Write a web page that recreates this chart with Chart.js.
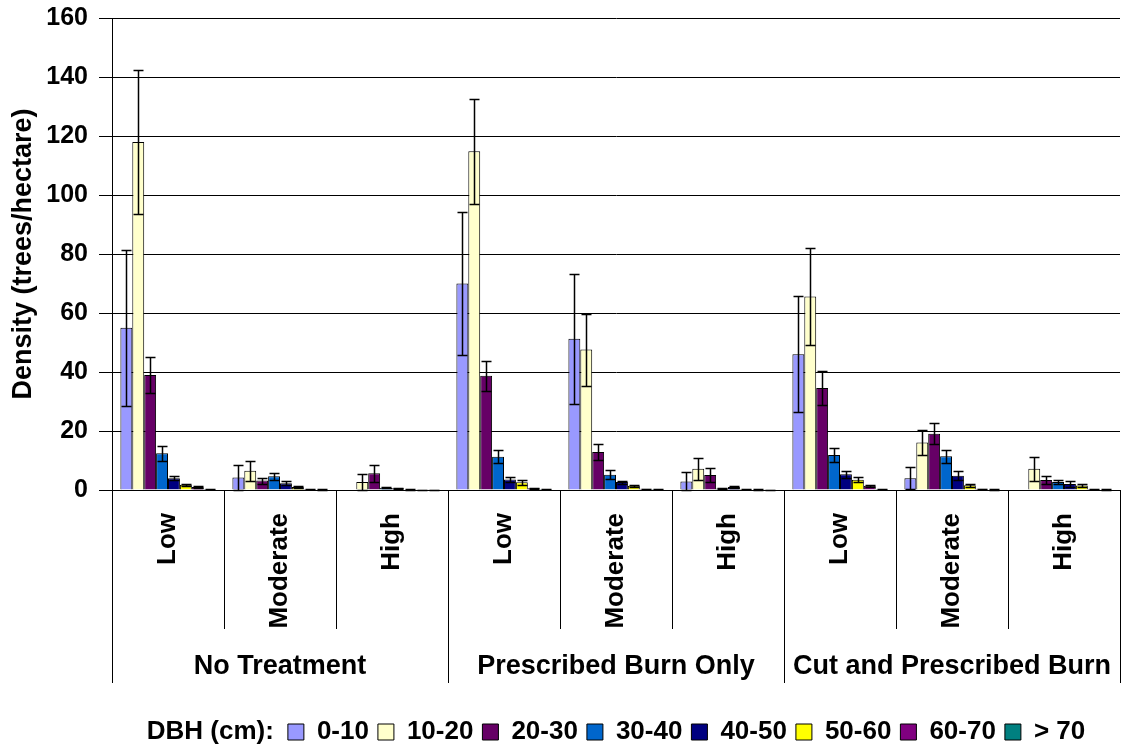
<!DOCTYPE html>
<html lang="en">
<head>
<meta charset="UTF-8">
<title>Tree density by DBH class</title>
<style>
  html, body { margin: 0; padding: 0; background: #fff; }
  .wrap { width: 1122px; height: 749px; position: relative; }
</style>
</head>
<body>
<div class="wrap"><canvas id="chart"></canvas></div>

<script src="https://cdn.jsdelivr.net/npm/chart.js"></script>
<script>
// severity level within each treatment (9 bar groups)
const severity = ['Low', 'Moderate', 'High', 'Low', 'Moderate', 'High', 'Low', 'Moderate', 'High'];
const treatments = ['No Treatment', 'Prescribed Burn Only', 'Cut and Prescribed Burn'];
const dbhClasses = ['0-10', '10-20', '20-30', '30-40', '40-50', '50-60', '60-70', '> 70'];
const yTicks = { min: 0, max: 160, step: 20 };

// mean density (trees/hectare) per DBH class, in severity order above
const d0_10  = [55, 4.2, 0, 70, 51.3, 2.9, 46, 4.0, 0];
const d10_20 = [118, 6.5, 2.7, 114.8, 47.6, 7.2, 65.6, 16.1, 7.2];
const d20_30 = [39, 3.2, 5.7, 38.7, 12.9, 5.1, 34.6, 19.1, 3.4];
const d30_40 = [12.5, 4.7, 0.8, 11.3, 5.2, 0.5, 11.9, 11.4, 2.7];
const d40_50 = [4, 2.3, 0.6, 3.6, 2.7, 1.0, 5.3, 4.8, 2.0];
const d50_60 = [1.8, 1.0, 0.2, 2.6, 1.4, 0.3, 3.5, 1.6, 1.5];
const d60_70 = [1.0, 0.3, 0.1, 0.6, 0.4, 0.2, 1.4, 0.4, 0.3];
const d70    = [0.3, 0.2, 0.1, 0.3, 0.3, 0.1, 0.3, 0.2, 0.2];

// standard error (+/-)
const e0_10  = [26.5, 4.3, 0, 24.4, 22, 3.2, 19.6, 3.8, 0];
const e10_20 = [24.3, 3.3, 2.7, 17.7, 12.2, 3.7, 16.3, 4.3, 4.0];
const e20_30 = [6.2, 1.0, 2.9, 5.0, 2.6, 2.5, 5.8, 3.5, 1.5];
const e30_40 = [2.5, 1.2, 0.2, 2.2, 1.5, 0.2, 2.4, 2.3, 0.8];
const e40_50 = [0.7, 0.6, 0.2, 0.8, 0.5, 0.4, 1.1, 1.5, 1.0];
const e50_60 = [0.3, 0.3, 0.1, 0.9, 0.3, 0.1, 0.8, 0.5, 0.4];
const e60_70 = [0.3, 0.1, 0.05, 0.2, 0.1, 0.1, 0.3, 0.1, 0.1];
const e70    = [0.1, 0.05, 0.05, 0.1, 0.1, 0.05, 0.1, 0.05, 0.05];

const colors = ['#9999FF', '#FFFFCC', '#660066', '#0066CC', '#000080', '#FFFF00', '#800080', '#008080'];

const values = [d0_10, d10_20, d20_30, d30_40, d40_50, d50_60, d60_70, d70];
const errors = [e0_10, e10_20, e20_30, e30_40, e40_50, e50_60, e60_70, e70];

const FONT = "'Liberation Sans', Arial, sans-serif";
Chart.defaults.font.family = FONT;
Chart.defaults.color = '#000';

// vertical error bars, positioned from the bar elements and the y scale
const errorBars = {
    id: 'errorBars',
    afterDatasetsDraw(chart) {
        const ctx = chart.ctx;
        const y = chart.scales.y;
        ctx.save();
        ctx.strokeStyle = '#000';
        ctx.lineWidth = 1.5;
        chart.data.datasets.forEach((ds, i) => {
            const meta = chart.getDatasetMeta(i);
            meta.data.forEach((bar, j) => {
                const v = ds.data[j], e = ds.errors[j];
                if (!e) return;
                const top = Math.round(y.getPixelForValue(v + e)) + 0.5;
                const bot = Math.round(y.getPixelForValue(Math.max(0, v - e))) + 0.5;
                const x = Math.round(bar.x) + 0.5;
                ctx.beginPath();
                ctx.moveTo(x, top); ctx.lineTo(x, bot);
                ctx.moveTo(x - 5, top); ctx.lineTo(x + 5, top);
                ctx.moveTo(x - 5, bot); ctx.lineTo(x + 5, bot);
                ctx.stroke();
            });
        });
        ctx.restore();
    }
};

// "DBH (cm):" written in front of the legend row
const legendPrefix = {
    id: 'legendPrefix',
    afterLayout(chart, args, opts) {
        const lg = chart.legend;
        if (!lg || !lg.lineWidths) return;
        const ctx = chart.ctx;
        ctx.save();
        ctx.font = `bold ${opts.size}px ${FONT}`;
        const pw = ctx.measureText(opts.text).width;
        ctx.restore();
        const pad = lg.options.labels.padding;
        const rowW = lg.lineWidths[0] - pad;
        const total = pw + opts.gap + rowW;
        const mid = (chart.chartArea.left + chart.chartArea.right) / 2;
        const firstX = mid - total / 2 + pw + opts.gap;
        const w = lg.right - lg.left;
        lg.left = firstX - pad;
        lg.right = lg.left + w;
        lg.top += opts.offsetY;
        lg.bottom += opts.offsetY;
    },
    afterDraw(chart, args, opts) {
        const hb = chart.legend.legendHitBoxes[0];
        const ctx = chart.ctx;
        ctx.save();
        ctx.font = `bold ${opts.size}px ${FONT}`;
        ctx.fillStyle = '#000';
        ctx.textAlign = 'right';
        ctx.textBaseline = 'middle';
        ctx.fillText(opts.text, hb.left - opts.gap, hb.top + hb.height / 2);
        ctx.restore();
    }
};

const datasets = dbhClasses.map((name, i) => ({
    label: name,
    data: values[i],
    errors: errors[i],
    backgroundColor: colors[i],
    borderColor: '#000',
    borderWidth: 1,
    categoryPercentage: 0.85,
    barPercentage: 1.0
}));

new Chart(document.getElementById('chart'), {
    type: 'bar',
    data: { labels: severity, datasets: datasets },
    plugins: [errorBars, legendPrefix],
    options: {
        responsive: true,
        maintainAspectRatio: false,
        animation: false,
        layout: { padding: { top: 18, right: 2, left: 0, bottom: 0 } },
        plugins: {
            tooltip: { enabled: false },
            legend: {
                position: 'bottom',
                align: 'start',
                labels: {
                    font: { size: 26, weight: 'bold' },
                    color: '#000',
                    boxWidth: 16,
                    boxHeight: 16,
                    padding: 9
                }
            },
            legendPrefix: { text: 'DBH (cm):', size: 26, gap: 14, offsetY: 6 }
        },
        scales: {
            x: {
                weight: 0,
                grid: { offset: true, drawOnChartArea: false, tickLength: 139, color: '#000', tickColor: '#000' },
                border: { color: '#000' },
                ticks: {
                    autoSkip: false,
                    minRotation: 90,
                    maxRotation: 90,
                    padding: -116,
                    font: { size: 26, weight: 'bold' }
                },
                afterFit: s => { s.height = 139; }
            },
            x2: {
                type: 'category',
                labels: treatments,
                position: 'bottom',
                weight: 1,
                offset: true,
                grid: { offset: true, drawOnChartArea: false, tickLength: 54, color: '#000', tickColor: '#000' },
                border: { display: false },
                ticks: {
                    autoSkip: false,
                    maxRotation: 0,
                    padding: -33,
                    font: { size: 27, weight: 'bold' }
                },
                afterFit: s => { s.height = 75; }
            },
            y: {
                min: yTicks.min,
                max: yTicks.max,
                ticks: { stepSize: yTicks.step, padding: 11, font: { size: 25, weight: 'bold' } },
                grid: { color: '#000', tickLength: 13, tickColor: '#000' },
                border: { color: '#000' },
                title: {
                    display: true,
                    text: 'Density (trees/hectare)',
                    font: { size: 27, weight: 'bold' },
                    padding: { top: 7, bottom: 0 }
                },
                afterFit: s => { s.width = 112; s.paddingTop = 0; s.paddingBottom = 0; }
            }
        }
    }
});
</script>
</body>
</html>
